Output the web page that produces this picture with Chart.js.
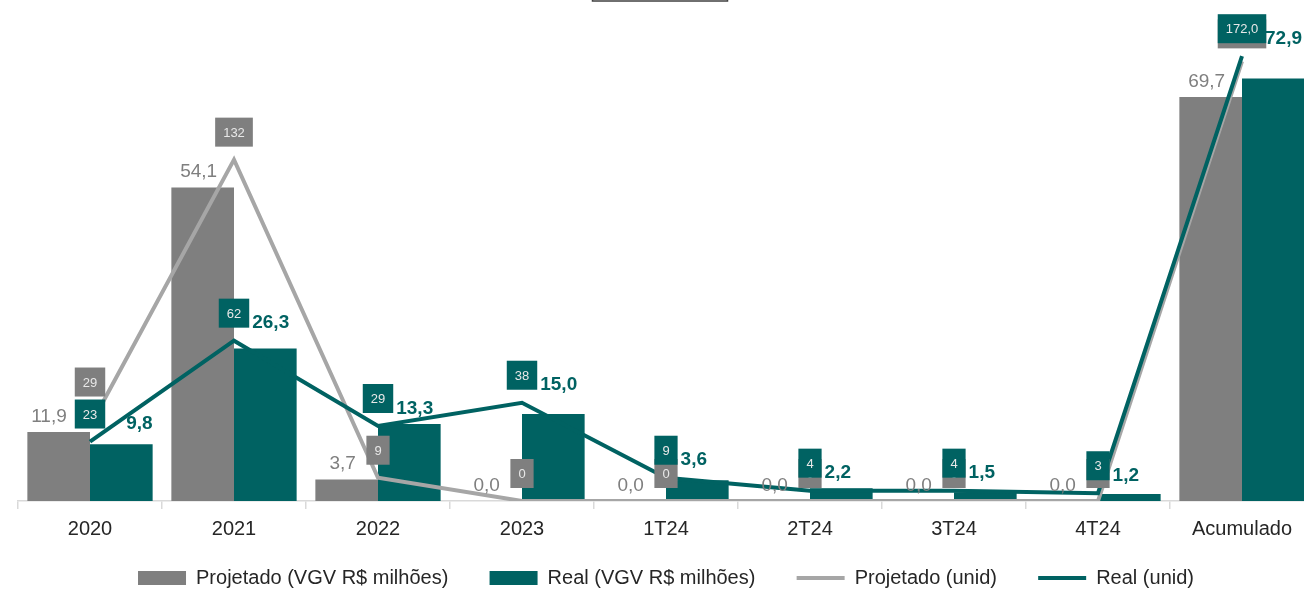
<!DOCTYPE html>
<html>
<head>
<meta charset="utf-8">
<script src="https://cdn.jsdelivr.net/npm/chart.js@4.4.1/dist/chart.umd.min.js"></script>
<style>
  html, body { margin: 0; padding: 0; background: #fff; overflow: hidden; }
</style>
</head>
<body>
<canvas id="myChart" width="1320" height="589"></canvas>
<script>
const categories = ["2020", "2021", "2022", "2023", "1T24", "2T24", "3T24", "4T24", "Acumulado"];
const projetadoVgv = [11.9, 54.1, 3.7, 0.0, 0.0, 0.0, 0.0, 0.0, 69.7];
const realVgv = [9.8, 26.3, 13.3, 15.0, 3.6, 2.2, 1.5, 1.2, 72.9];
const projetadoUnid = [29, 132, 9, 0, 0, 0, 0, 0, 170];
const realUnid = [23, 62, 29, 38, 9, 4, 4, 3, 172];

const GRAY = "#7f7f7f";
const TEAL = "#006262";
const LIGHT = "#a6a6a6";
const FONT = "'Liberation Sans', Arial, sans-serif";

const fmt = (v, digits) => v.toFixed(digits).replace(".", ",");
const unitText = (v, i) => i === categories.length - 1 ? fmt(v, 1) : String(v);

const overlaps = (a, b, m = 0) =>
  a.x < b.x + b.w + m && a.x + a.w > b.x - m && a.y < b.y + b.h + m && a.y + a.h > b.y - m;

//does the segment p-q cross rect r (sampled, good enough here)
const hitsSegment = (r, p, q) => {
  for (let t = 0; t <= 1; t += 0.01) {
    const x = p.x + (q.x - p.x) * t, y = p.y + (q.y - p.y) * t;
    if (x >= r.x && x <= r.x + r.w && y >= r.y && y <= r.y + r.h) return true;
  }
  return false;
};

//draws the value labels the way the excel chart does
const valueLabels = {
  id: "valueLabels",
  afterDatasetsDraw(c) {
    const ctx = c.ctx;
    const projBars = c.getDatasetMeta(0).data;
    const realBars = c.getDatasetMeta(1).data;
    const projPts = c.getDatasetMeta(2).data;
    const realPts = c.getDatasetMeta(3).data;
    ctx.save();

    const boxFor = (pt, text) => {
      ctx.font = `13px ${FONT}`;
      const w = ctx.measureText(text).width + 16;
      const h = 29;
      return { x: pt.x - w / 2, y: pt.y - 13 - h, w, h, text };
    };
    const realBoxes = realPts.map((pt, i) => boxFor(pt, unitText(realUnid[i], i)));
    const projBoxes = projPts.map((pt, i) => {
      const b = boxFor(pt, unitText(projetadoUnid[i], i));
      const r = realBoxes[i];
      //a higher projected value gets stacked above the real box
      if (projetadoUnid[i] > realUnid[i] && overlaps(b, r)) b.y = r.y - 3 - b.h;
      return b;
    });
    const allBoxes = projBoxes.concat(realBoxes);

    //projected bar labels, pushed left when they hit a box
    ctx.font = `19px ${FONT}`;
    ctx.fillStyle = GRAY;
    ctx.textAlign = "left";
    ctx.textBaseline = "bottom";
    projBars.forEach((bar, i) => {
      const text = fmt(projetadoVgv[i], 1);
      const w = ctx.measureText(text).width;
      const r = { x: bar.x - 4 - w / 2, y: bar.y - 8 - 17, w, h: 17 };
      allBoxes.forEach(b => { if (overlaps(r, b, 6)) r.x = b.x - 8 - w; });
      ctx.fillText(text, r.x, r.y + r.h + 2);
    });

    const drawBox = (b, fill) => {
      ctx.fillStyle = fill;
      ctx.fillRect(b.x, b.y, b.w, b.h);
      ctx.fillStyle = "#e8e8e8";
      ctx.font = `13px ${FONT}`;
      ctx.textAlign = "center";
      ctx.textBaseline = "middle";
      ctx.fillText(b.text, b.x + b.w / 2, b.y + b.h / 2 + 1);
    };
    projBoxes.forEach(b => drawBox(b, GRAY));
    realBoxes.forEach(b => drawBox(b, TEAL));

    //real bar labels sit to the right of the unit box, clear of the line
    ctx.font = `bold 19px ${FONT}`;
    ctx.fillStyle = TEAL;
    ctx.textAlign = "left";
    ctx.textBaseline = "middle";
    realBars.forEach((bar, i) => {
      const b = realBoxes[i];
      const text = fmt(realVgv[i], 1);
      const w = ctx.measureText(text).width;
      const r = { x: b.x + b.w + 3, y: b.y + b.h / 2 + 2, w, h: 16 };
      const p = realPts[i], q = realPts[i + 1];
      if (q) while (hitsSegment(r, p, q)) r.x += 1;
      r.x = Math.min(r.x, c.chartArea.right - 12 - w);
      ctx.fillText(text, r.x, r.y + 8);
    });
    ctx.restore();
  },
  afterDraw(c) {
    //bottom edge of the title frame that is cut off at the top
    const ctx = c.ctx;
    ctx.save();
    ctx.strokeStyle = "#404040";
    ctx.lineWidth = 1.5;
    ctx.strokeRect(592.5, -20, 135, 21);
    ctx.restore();
  }
};

const data = {
  labels: categories,
  datasets: [
    { label: "Projetado (VGV R$ milhões)", data: projetadoVgv, backgroundColor: GRAY, yAxisID: "y", order: 2, pointStyle: "rect" },
    { label: "Real (VGV R$ milhões)", data: realVgv, backgroundColor: TEAL, yAxisID: "y", order: 2, pointStyle: "rect" },
    { type: "line", label: "Projetado (unid)", data: projetadoUnid, borderColor: LIGHT, backgroundColor: LIGHT, borderWidth: 4, pointRadius: 0, tension: 0, yAxisID: "y1", order: 1, pointStyle: "line" },
    { type: "line", label: "Real (unid)", data: realUnid, borderColor: TEAL, backgroundColor: TEAL, borderWidth: 4, pointRadius: 0, tension: 0, yAxisID: "y1", order: 0, pointStyle: "line" },
  ]
};

//legend in dataset order, with wider gaps between the items
const legendLabels = chart => {
  const items = Chart.defaults.plugins.legend.labels.generateLabels(chart)
    .sort((a, b) => a.datasetIndex - b.datasetIndex);
  items.forEach((item, i) => { if (i < items.length - 1) item.text += "    "; });
  return items;
};

new Chart(document.getElementById("myChart"), {
  type: "bar",
  data: data,
  plugins: [valueLabels],
  options: {
    responsive: false,
    animation: false,
    categoryPercentage: 0.87,
    barPercentage: 1.0,
    layout: { padding: { left: 18, right: 6, top: 20, bottom: -9 } },
    plugins: {
      tooltip: { enabled: false },
      legend: {
        position: "bottom",
        labels: {
          usePointStyle: true,
          pointStyleWidth: 48,
          boxHeight: 14,
          padding: 19,
          color: "#262626",
          font: { family: FONT, size: 20 },
          generateLabels: legendLabels,
        }
      }
    },
    scales: {
      x: {
        offset: true,
        grid: { offset: true, drawOnChartArea: false, drawTicks: true, tickLength: 8, color: "#d9d9d9", lineWidth: 1.5 },
        border: { color: "#d9d9d9", width: 1.5 },
        ticks: { color: "#262626", font: { family: FONT, size: 20 }, padding: 8 }
      },
      y: { display: false, min: 0, max: 83 },
      y1: { display: false, min: 0, max: 186 },
    }
  }
});
</script>
</body>
</html>
